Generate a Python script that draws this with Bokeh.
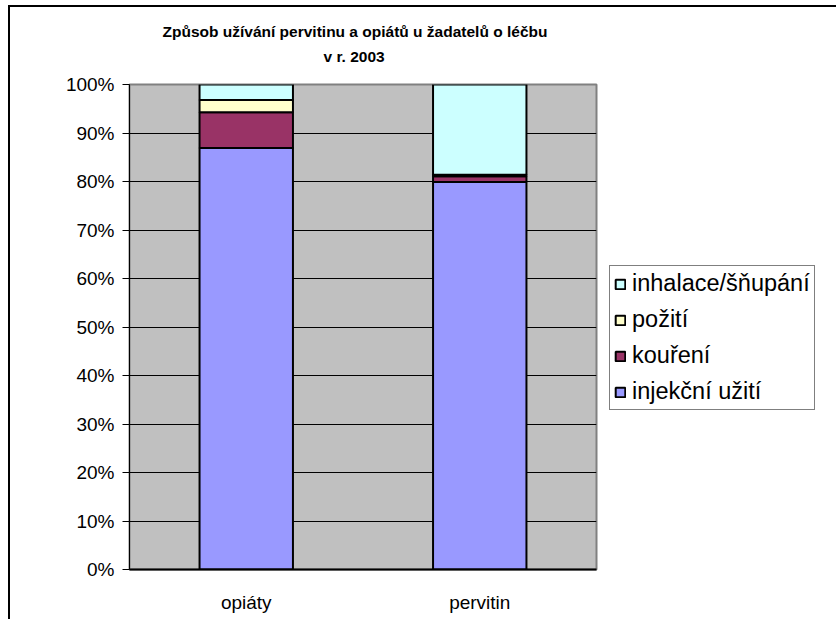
from bokeh.plotting import figure
from bokeh.models import (FactorRange, Legend, LegendItem, Title, PrintfTickFormatter,
                          FixedTicker, ColumnDataSource)
from bokeh.embed import file_html
from bokeh.resources import INLINE

categories = ["opiáty", "pervitin"]
series_names = ["injekční užití", "kouření", "požití", "inhalace/šňupání"]
injekcni = [86.9, 79.9]
koureni = [7.4, 1.2]
poziti = [2.5, 0.3]
inhalace = [3.2, 18.6]
colors = ["#9999FF", "#993366", "#FFFFCC", "#CCFFFF"]
y_ticks = [0, 10, 20, 30, 40, 50, 60, 70, 80, 90, 100]
title_line1 = "Způsob užívání pervitinu a opiátů u žadatelů o léčbu"
title_line2 = "v r. 2003"

FONT = "Liberation Sans"
keys = ["injekcni", "koureni", "poziti", "inhalace"]
source = ColumnDataSource(dict(cat=categories, injekcni=injekcni, koureni=koureni,
                               poziti=poziti, inhalace=inhalace))

p = figure(frame_width=467, frame_height=485, x_range=FactorRange(*categories, range_padding=0),
           y_range=(0, 100), output_backend="svg", toolbar_location=None,
           min_border_left=119, min_border_right=10, min_border_top=77, min_border_bottom=50)
p.border_fill_color = "white"
p.background_fill_color = "#C0C0C0"
p.outline_line_color = "#808080"
p.outline_line_width = 2
p.styles = {"border-left": "2px solid black", "border-top": "2px solid black",
            "margin-left": "8px", "margin-top": "5px"}

renderers = p.vbar_stack(keys, x="cat", width=0.4, source=source, color=colors,
                         line_color="black", line_width=2)

p.xgrid.grid_line_color = None
p.ygrid.grid_line_color = "black"
p.ygrid.grid_line_width = 1
p.yaxis.ticker = FixedTicker(ticks=y_ticks)
p.yaxis.formatter = PrintfTickFormatter(format="%d%%")
p.yaxis.major_tick_out = 7
p.yaxis.major_tick_in = 0
p.yaxis.minor_tick_line_color = None
p.yaxis.axis_line_color = "black"
p.yaxis.major_label_standoff = 8
p.xaxis.major_tick_line_color = None
p.xaxis.major_label_standoff = 16
p.xaxis.axis_line_color = "black"
p.xaxis.axis_line_width = 2
for ax in (p.xaxis, p.yaxis):
    ax.major_label_text_font = FONT
    ax.major_label_text_font_size = "19px"
    ax.major_label_text_color = "black"

p.add_layout(Title(text=title_line2, align="left", offset=194, text_font=FONT,
                   text_font_size="15.5px", text_font_style="bold", text_color="black",
                   standoff=40), "above")
p.add_layout(Title(text=title_line1, align="left", offset=33, text_font=FONT,
                   text_font_size="15.5px", text_font_style="bold", text_color="black",
                   standoff=-28), "above")

items = [LegendItem(label=series_names[i], renderers=[renderers[i]]) for i in [3, 2, 1, 0]]
legend = Legend(items=items, location=(13, 159), label_text_font=FONT,
                label_text_font_size="23.5px", label_text_color="black",
                glyph_width=12, glyph_height=12,
                spacing=9, padding=4, margin=0, border_line_color="black",
                border_line_width=1, label_standoff=6, background_fill_color="white")
p.add_layout(legend, "right")

open("out.html", "w").write(file_html(p, INLINE))
